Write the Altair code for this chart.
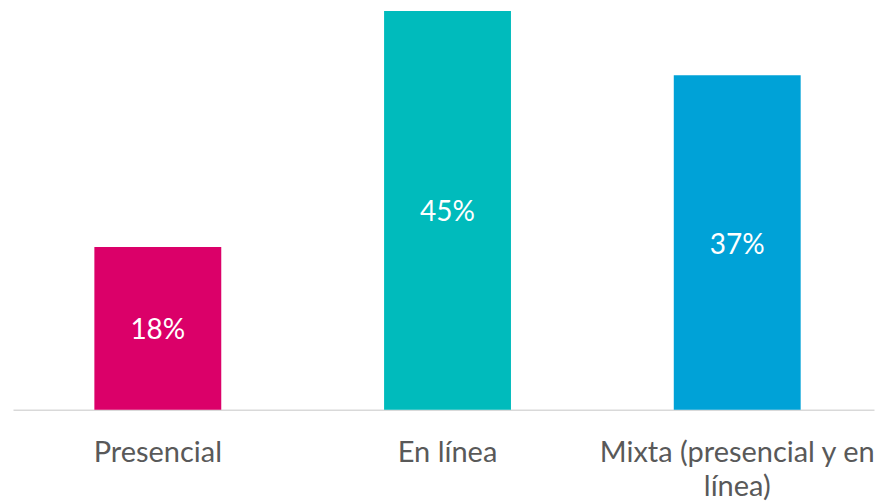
import altair as alt
import pandas as pd

categories = ["Presencial", "En línea", "Mixta (presencial y en línea)"]
values = [18.0, 44.1, 37.0]
labels = ["18%", "45%", "37%"]
colors = ["#DB0069", "#00BBBC", "#00A2D7"]

df = pd.DataFrame({"cat": categories, "val": values, "lbl": labels})

FONT = "Lato"

x = alt.X(
    "cat:N",
    sort=categories,
    title=None,
    scale=alt.Scale(paddingInner=0.562, paddingOuter=0.267, align=0.526),
    axis=alt.Axis(
        labelAngle=0,
        labelFont=FONT,
        labelFontSize=29,
        labelColor="#595959",
        labelPadding=29,
        labelLineHeight=34,
        labelLimit=400,
        ticks=False,
        tickSize=0,
        domainColor="#D9D9D9",
        domainWidth=1.5,
        labelExpr="datum.value == 'Mixta (presencial y en línea)' ? ['Mixta (presencial y en', 'línea)'] : datum.value",
    ),
)

y = alt.Y("val:Q", scale=alt.Scale(domain=[0, 44.4], nice=False), axis=None)

base = alt.Chart(df)

bars = base.mark_bar().encode(
    x=x,
    y=y,
    color=alt.Color("cat:N", scale=alt.Scale(domain=categories, range=colors), legend=None),
)

text = base.transform_calculate(mid="datum.val / 2").mark_text(
    font=FONT, fontSize=28, color="white", baseline="middle", dy=3
).encode(
    x=alt.X("cat:N", sort=categories),
    y=alt.Y("mid:Q"),
    text="lbl:N",
)

chart = (
    alt.layer(bars, text)
    .properties(width=862, height=402, padding={"left": 5, "top": 0, "right": 0, "bottom": 0})
    .configure_view(stroke=None)
)

chart.save("out.html", embed_options={"renderer": "svg", "actions": False})
